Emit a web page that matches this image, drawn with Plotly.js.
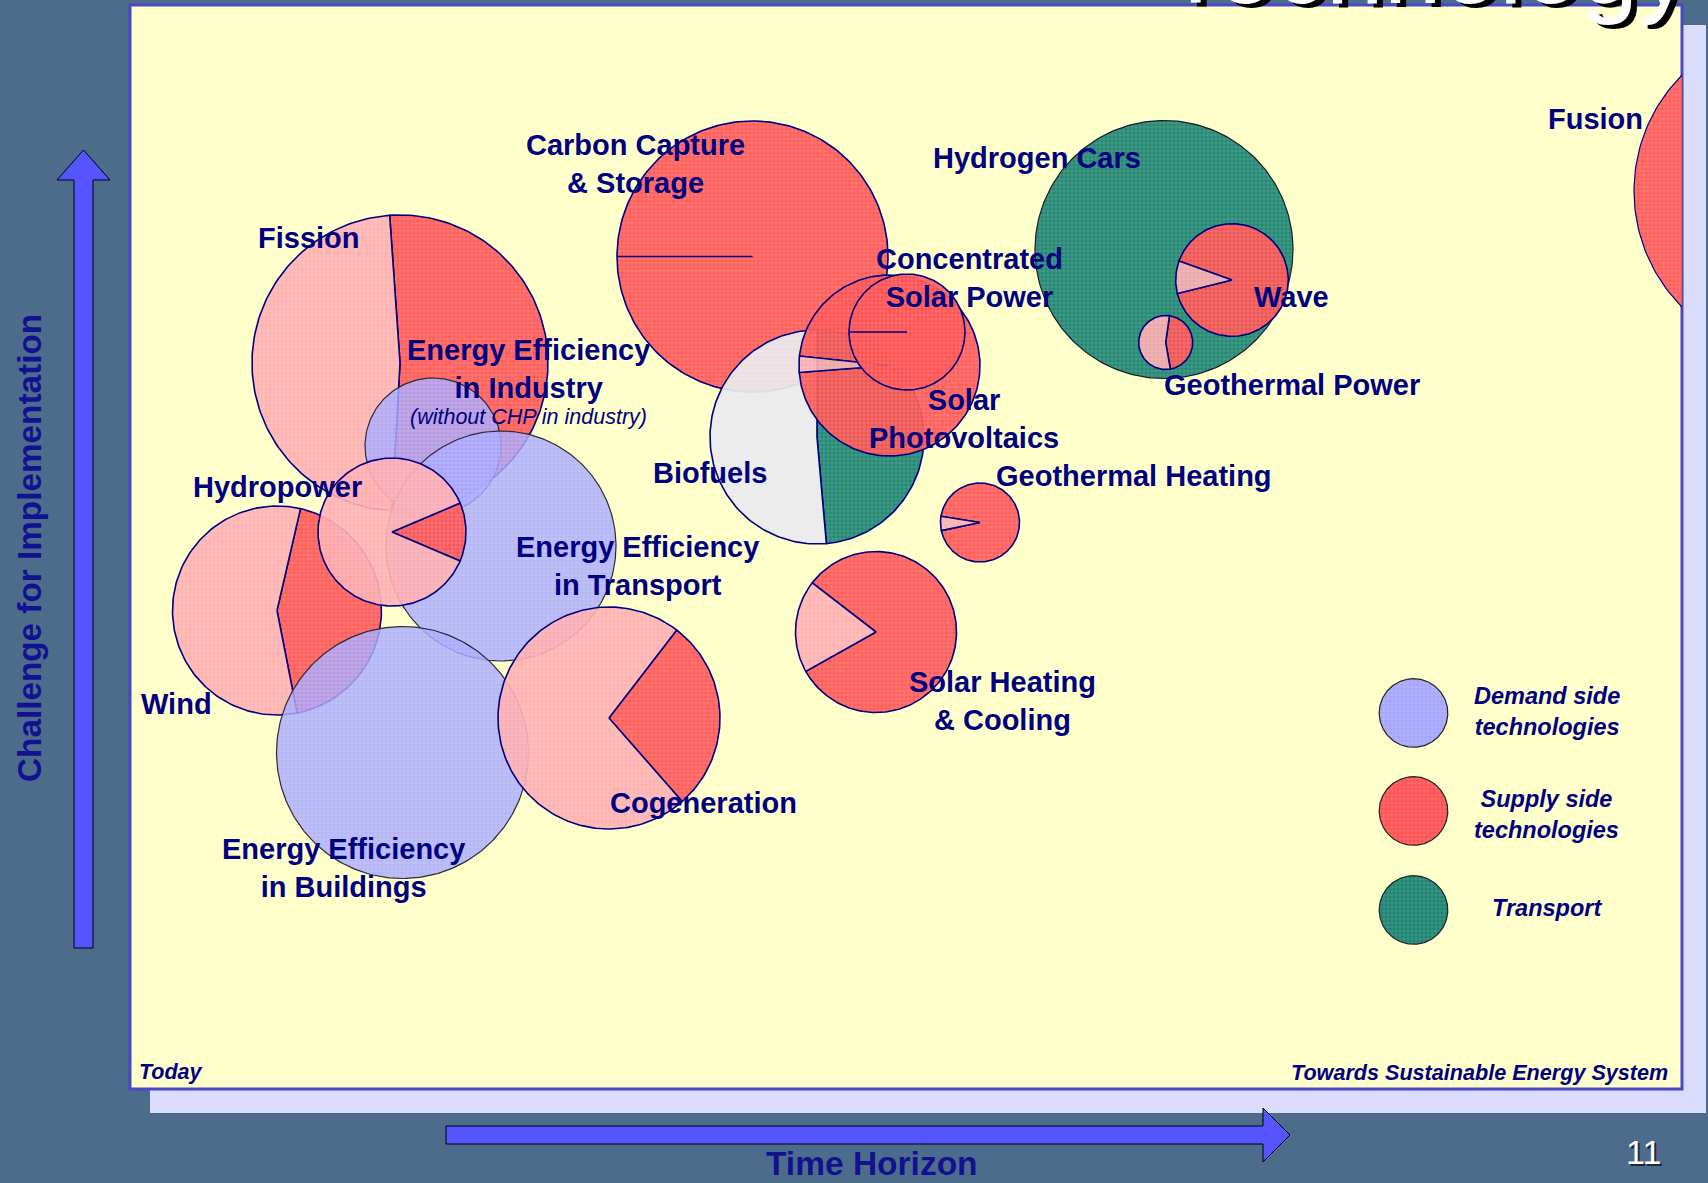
<!DOCTYPE html>
<html><head><meta charset="utf-8">
<script src="https://cdn.plot.ly/plotly-3.0.1.min.js"></script>
<style>html,body{margin:0;padding:0;background:#4d6c8c;overflow:hidden}#chart{width:1708px;height:1183px}</style>
</head><body><div id="chart"></div>
<script>
// ---------------- data ----------------
const technologies = ['Fusion','Hydrogen Cars','Wave','Geothermal Power','Carbon Capture & Storage','Biofuels',
  'Solar Photovoltaics','Concentrated Solar Power','Geothermal Heating','Solar Heating & Cooling','Fission',
  'Energy Efficiency in Industry','Energy Efficiency in Transport','Wind','Hydropower',
  'Energy Efficiency in Buildings','Cogeneration'];
const category = ['supply','transport','supply','supply','supply','biofuel','supply','supply','supply','supply','supply',
  'demand','demand','supply','supply','demand','supply'];
const timeHorizon = [166.8,103.4,110.2,103.57,62.25,68.7,75.95,77.7,85.0,74.6,27.0,30.3,37.1,14.7,26.2,27.25,47.9];
const challenge   = [89.8,83.95,80.9,74.65,83.25,65.2,72.35,75.7,56.65,45.7,72.6,64.3,54.3,47.85,55.7,33.65,37.1];
const bubbleSize  = [16.4,12.9,5.63,2.7,13.55,10.7,9.05,5.8,3.95,8.05,14.8,6.8,11.5,10.45,7.4,12.6,11.1];
// share of the main (darker) slice; null = plain circle without slices
const mainShare   = [null,null,0.907,0.45,1,0.486,0.971,1,0.942,0.814,0.52,null,null,0.433,0.128,null,0.281];
const legendLabels = ['Demand side<br>technologies','Supply side<br>technologies','Transport'];
const legendCategory = ['demand','supply','transport'];

// ---------------- styles ----------------
const sliceStart = [0,0,289.6,8,270,0,276,270,279,307.7,-4,0,0,13,67,0,37.6];
const labelText = ['Fusion','Hydrogen Cars','Wave','Geothermal Power','Carbon Capture<br>& Storage','Biofuels',
  'Solar<br>Photovoltaics','Concentrated<br>Solar Power','Geothermal Heating','Solar Heating<br>& Cooling','Fission',
  'Energy Efficiency<br>in Industry','Energy Efficiency<br>in Transport','Wind','Hydropower',
  'Energy Efficiency<br>in Buildings','Cogeneration'];
const labelPos = [[146.5,97.0],[90.7,93.1],[116.1,79.2],[116.2,70.4],[50.5,92.55],[58.0,61.6],
  [83.4,67.05],[83.9,81.1],[100.4,61.3],[87.2,38.8],[17.9,85.1],
  [39.8,72.05],[50.7,52.35],[4.6,38.5],[14.7,60.2],[21.3,22.15],[57.3,28.6]];
const legendPos = {cx:128.35, cy:[37.6,27.8,17.9], r:3.43, tx:141.67, ty:[37.8,27.5,18.1]};
const palette = {
  demand:   {main:'rgba(166,166,255,0.82)', line:'#2b2b3b'},
  supply:   {main:'rgba(255,82,82,0.92)', second:'rgba(255,172,176,0.9)', line:'#000080'},
  transport:{main:'rgba(28,132,112,0.96)', line:'#1b1b2b'},
  biofuel:  {main:'rgba(28,132,112,0.96)', second:'rgba(232,232,238,0.93)', line:'#000080'}
};
const NAVY = '#000080';
const FONT = 'Liberation Sans, Arial, sans-serif';

function arc(cx, cy, r, a0, a1, withCenter) {
  const n = Math.max(12, Math.ceil(Math.abs(a1 - a0) / 1.5));
  const xs = [], ys = [];
  if (withCenter) { xs.push(cx); ys.push(cy); }
  for (let i = 0; i <= n; i++) {
    const a = (a0 + (a1 - a0) * i / n) * Math.PI / 180;
    xs.push(cx + r * Math.sin(a)); ys.push(cy + r * Math.cos(a));
  }
  if (withCenter) { xs.push(cx); ys.push(cy); }
  return {xs, ys};
}
function polyTrace(p, fill, lineColor, lw) {
  return {type:'scatter', mode:'lines', x:p.xs, y:p.ys, fill:'toself', fillcolor:fill,
    line:{color:lineColor, width:lw}, hoverinfo:'skip', showlegend:false,
    fillpattern:{shape:'+', size:4, solidity:0.22, fgcolor:'#ffffff', fgopacity:0.3, fillmode:'overlay'}};
}

const traces = [];
technologies.forEach((t, i) => {
  const pal = palette[category[i]];
  const cx = timeHorizon[i], cy = challenge[i], r = bubbleSize[i];
  if (mainShare[i] === null) {
    traces.push(polyTrace(arc(cx, cy, r, 0, 360, false), pal.main, pal.line, 1.2));
  } else {
    const s = sliceStart[i], e = s + mainShare[i] * 360;
    traces.push(polyTrace(arc(cx, cy, r, s, e, true), pal.main, pal.line, 1.6));
    if (mainShare[i] < 1) traces.push(polyTrace(arc(cx, cy, r, e, s + 360, true), pal.second, pal.line, 1.6));
  }
});
legendCategory.forEach((c, i) => {
  traces.push(polyTrace(arc(legendPos.cx, legendPos.cy[i], legendPos.r, 0, 360, false),
    palette[c].main.replace(/0\.\d+\)$/, '1)'), '#222', 1.2));
});

// ---------------- layout helpers (pixel -> paper) ----------------
const L = 130, T = 5, W = 1552, H = 1084;
const px = x => (x - L) / W;
const py = y => (T + H - y) / H;
function pathPx(pts) {
  return 'M ' + pts.map(p => px(p[0]).toFixed(5) + ' ' + py(p[1]).toFixed(5)).join(' L ') + ' Z';
}

const annotations = [];
technologies.forEach((t, i) => {
  annotations.push({xref:'x', yref:'y', x:labelPos[i][0], y:labelPos[i][1], text:'<b>' + labelText[i] + '</b>',
    showarrow:false, font:{family:FONT, size:29, color:NAVY}, xanchor:'center', yanchor:'middle'});
});
annotations.push({xref:'x', yref:'y', x:39.8, y:67.2, text:'<i>(without CHP in industry)</i>', showarrow:false,
  font:{family:FONT, size:21.5, color:NAVY}});
legendLabels.forEach((lab, i) => {
  annotations.push({xref:'x', yref:'y', x:legendPos.tx, y:legendPos.ty[i], text:'<b><i>' + lab + '</i></b>',
    showarrow:false, font:{family:FONT, size:23.5, color:NAVY}});
});
annotations.push({xref:'paper', yref:'paper', x:px(137), y:py(1072), xanchor:'left', yanchor:'middle',
  text:'<b><i>Today</i></b>', showarrow:false, font:{family:FONT, size:21.5, color:NAVY}});
annotations.push({xref:'paper', yref:'paper', x:px(1670), y:py(1072), xanchor:'right', yanchor:'middle',
  text:'<b><i>Towards Sustainable Energy System</i></b>', showarrow:false, font:{family:FONT, size:21.6, color:NAVY}});
annotations.push({xref:'paper', yref:'paper', x:px(30), y:py(548), textangle:-90, xanchor:'center', yanchor:'middle',
  text:'<b>Challenge for Implementation</b>', showarrow:false, font:{family:FONT, size:33.3, color:'#121290'}});
annotations.push({xref:'paper', yref:'paper', x:px(872), y:py(1163), xanchor:'center', yanchor:'middle',
  text:'<b>Time Horizon</b>', showarrow:false, font:{family:FONT, size:33.5, color:'#121290'}});
annotations.push({xref:'paper', yref:'paper', x:px(1645), y:py(1154), xanchor:'center', yanchor:'middle',
  text:'11', showarrow:false, font:{family:FONT, size:34, color:'#1c2a3a'}});
annotations.push({xref:'paper', yref:'paper', x:px(1643), y:py(1152), xanchor:'center', yanchor:'middle',
  text:'11', showarrow:false, font:{family:FONT, size:34, color:'#ffffff'}});
annotations.push({xref:'paper', yref:'paper', x:px(1698), y:py(31), xanchor:'right', yanchor:'bottom',
  text:'Technology', showarrow:false, font:{family:FONT, size:104, color:'#000000'}});
annotations.push({xref:'paper', yref:'paper', x:px(1692), y:py(27), xanchor:'right', yanchor:'bottom',
  text:'Technology', showarrow:false, font:{family:FONT, size:104, color:'#ffffff'}});

const shapes = [
  {type:'rect', xref:'paper', yref:'paper', x0:px(150), x1:px(1706), y0:py(1113), y1:py(25),
    fillcolor:'#dcdcfe', line:{width:0}, layer:'below'},
  {type:'rect', xref:'paper', yref:'paper', x0:px(130), x1:px(1682), y0:py(1089), y1:py(5),
    fillcolor:'#ffffcc', line:{color:'#4848c8', width:3}, layer:'below'},
  {type:'path', xref:'paper', yref:'paper', layer:'above', fillcolor:'#5555ff', line:{color:'#000', width:1},
    path: pathPx([[74,948],[74,180],[57,180],[83.5,150],[110,180],[93,180],[93,948]])},
  {type:'path', xref:'paper', yref:'paper', layer:'above', fillcolor:'#5555ff', line:{color:'#000', width:1},
    path: pathPx([[446,1126],[1263,1126],[1263,1108],[1290,1135],[1263,1162],[1263,1144],[446,1144]])}
];

const layout = {
  width:1708, height:1183, margin:{l:L, r:1708 - L - W, t:T, b:1183 - T - H, pad:0},
  paper_bgcolor:'#4d6c8c', plot_bgcolor:'rgba(0,0,0,0)',
  xaxis:{range:[0, W / 10], visible:false, fixedrange:true},
  yaxis:{range:[0, H / 10], visible:false, fixedrange:true},
  showlegend:false, shapes, annotations, hovermode:false
};
Plotly.newPlot('chart', traces, layout, {displayModeBar:false, staticPlot:true});
</script></body></html>
